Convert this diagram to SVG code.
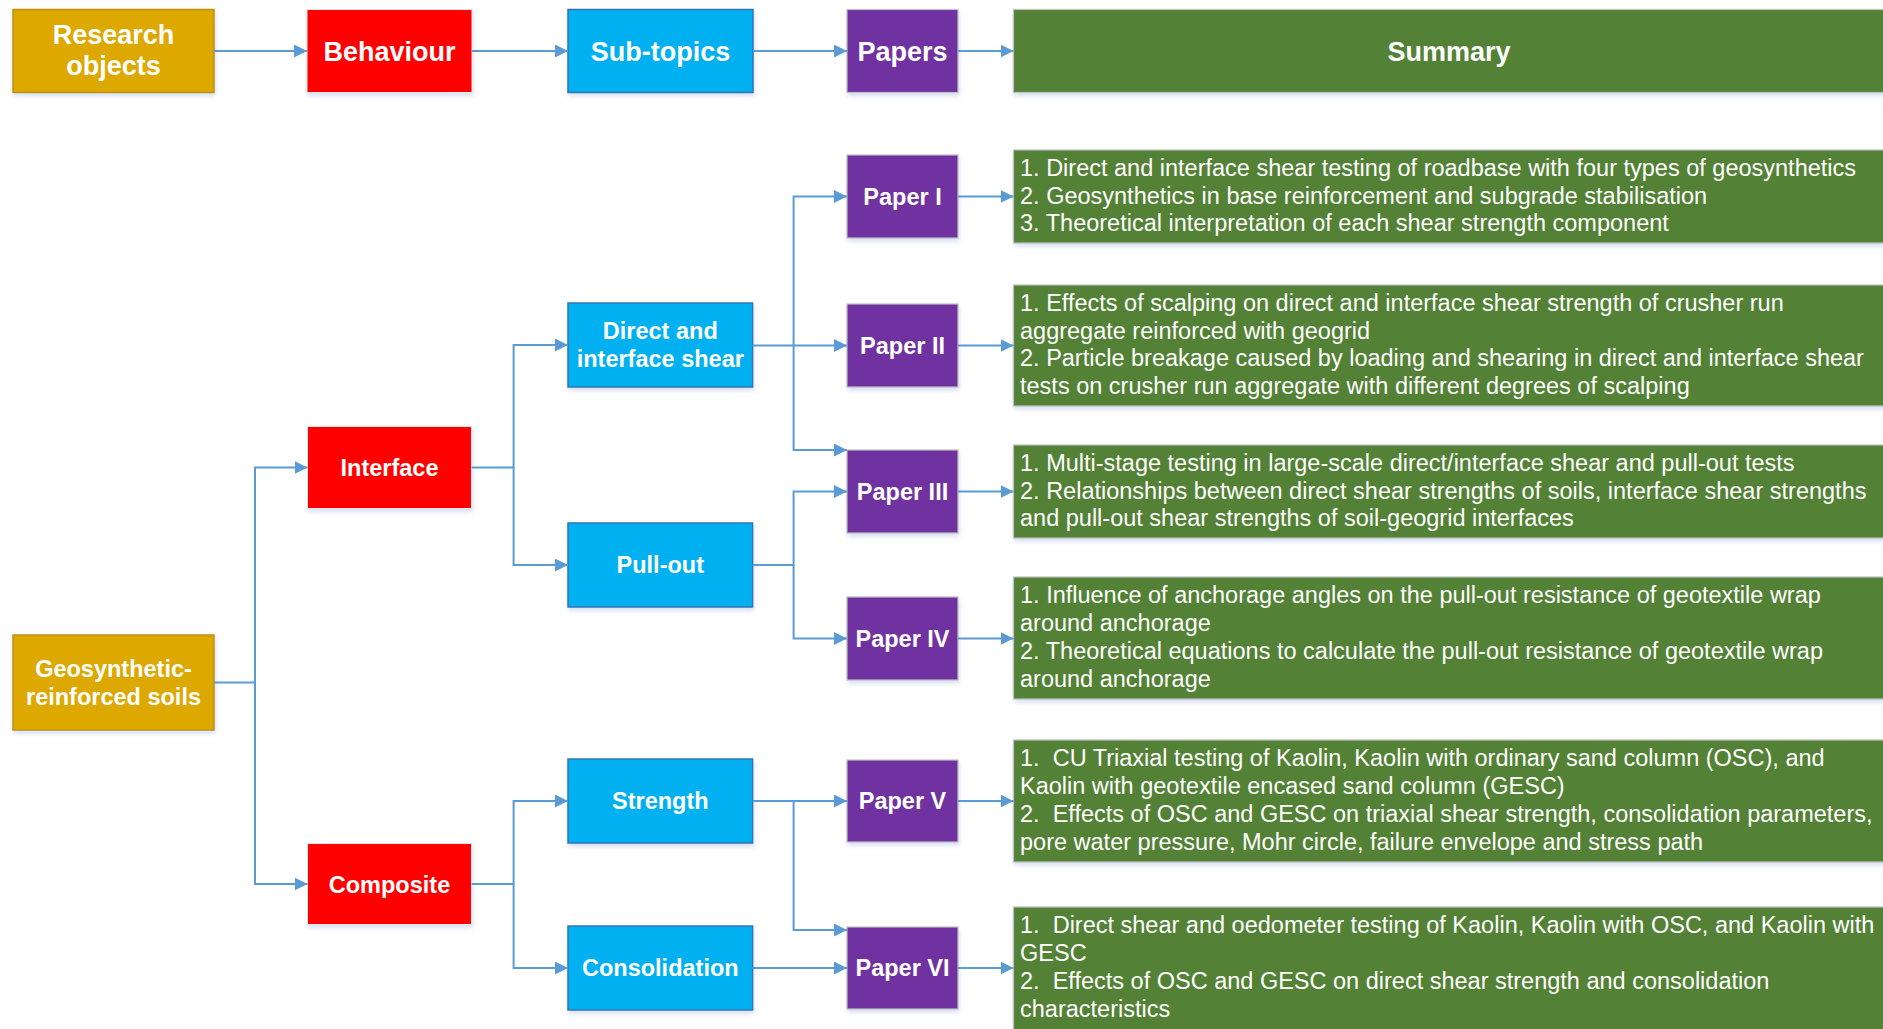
<svg xmlns="http://www.w3.org/2000/svg" width="1883" height="1029" viewBox="0 0 1883 1029">
<defs>
<filter id="sh" x="-5%" y="-10%" width="115%" height="135%">
<feDropShadow dx="1" dy="3" stdDeviation="2" flood-color="#8EA9DB" flood-opacity="0.35"/>
</filter>
<marker id="ar" markerUnits="userSpaceOnUse" markerWidth="14" markerHeight="14" refX="13" refY="6.5" orient="auto">
<path d="M0,0 L13,6.5 L0,13 Z" fill="#5B9BD5"/>
</marker>
<style>
.gold{fill:#DDA800;stroke:#BF9000;stroke-width:1.5;filter:url(#sh)}
.red{fill:#FF0000;stroke:#E8E8E8;stroke-width:1;filter:url(#sh)}
.cyan{fill:#00B0F0;stroke:#2E75B6;stroke-width:1.5;filter:url(#sh)}
.purple{fill:#7030A0;stroke:#BFBFBF;stroke-width:1.2;filter:url(#sh)}
.green{fill:#538135;stroke:#BFBFBF;stroke-width:1.2;filter:url(#sh)}
.h{font-family:"Liberation Sans",Arial,sans-serif;font-weight:bold;font-size:27px;fill:#fff;text-anchor:middle}
.n{font-family:"Liberation Sans",Arial,sans-serif;font-weight:bold;font-size:23.5px;fill:#fff;text-anchor:middle}
.s{font-family:"Liberation Sans",Arial,sans-serif;font-size:23.5px;fill:#fff;white-space:pre}
.c{fill:none;stroke:#5B9BD5;stroke-width:2;marker-end:url(#ar)}
.l{fill:none;stroke:#5B9BD5;stroke-width:2}
</style>
</defs>
<rect width="1883" height="1029" fill="#fff"/>

<!-- header row -->
<g id="h-research"><rect class="gold" x="13" y="9.5" width="201" height="83"/><text class="h" x="113.5" y="43.5">Research</text><text class="h" x="113.5" y="74.5">objects</text></g>
<g id="h-behaviour"><rect class="red" x="307" y="9.5" width="165" height="83"/><text class="h" x="389.5" y="60.5">Behaviour</text></g>
<g id="h-subtopics"><rect class="cyan" x="568" y="9.5" width="185" height="83"/><text class="h" x="660.5" y="60.5">Sub-topics</text></g>
<g id="h-papers"><rect class="purple" x="847" y="9.5" width="111" height="83"/><text class="h" x="902.5" y="60.5">Papers</text></g>
<g id="h-summary"><rect class="green" x="1013.5" y="9.5" width="880" height="83"/><text class="h" x="1449" y="60.5">Summary</text></g>

<!-- research object -->
<g id="geo"><rect class="gold" x="13" y="635" width="201" height="95"/><text class="n" x="113.5" y="677">Geosynthetic-</text><text class="n" x="113.5" y="705">reinforced soils</text></g>

<!-- behaviours -->
<g id="interface"><rect class="red" x="307.5" y="426.5" width="164" height="82"/><text class="n" x="389.5" y="476">Interface</text></g>
<g id="composite"><rect class="red" x="307.5" y="843.5" width="164" height="81"/><text class="n" x="389.5" y="892.5">Composite</text></g>

<!-- sub-topics -->
<g id="direct"><rect class="cyan" x="568" y="303" width="184.6" height="84"/><text class="n" x="660.3" y="339.4">Direct and</text><text class="n" x="660.3" y="367.4">interface shear</text></g>
<g id="pullout"><rect class="cyan" x="568" y="523" width="184.6" height="84"/><text class="n" x="660.3" y="573.4">Pull-out</text></g>
<g id="strength"><rect class="cyan" x="568" y="759" width="184.6" height="84"/><text class="n" x="660.3" y="809.4">Strength</text></g>
<g id="consolidation"><rect class="cyan" x="568" y="926" width="184.6" height="84"/><text class="n" x="660.3" y="976.4">Consolidation</text></g>

<!-- papers -->
<g id="paper1"><rect class="purple" x="847" y="155" width="111" height="83"/><text class="n" x="902.5" y="204.9">Paper I</text></g>
<g id="paper2"><rect class="purple" x="847" y="304" width="111" height="83"/><text class="n" x="902.5" y="353.9">Paper II</text></g>
<g id="paper3"><rect class="purple" x="847" y="450" width="111" height="83"/><text class="n" x="902.5" y="499.9">Paper III</text></g>
<g id="paper4"><rect class="purple" x="847" y="597" width="111" height="83"/><text class="n" x="902.5" y="646.9">Paper IV</text></g>
<g id="paper5"><rect class="purple" x="847" y="760" width="111" height="82"/><text class="n" x="902.5" y="809.4">Paper V</text></g>
<g id="paper6"><rect class="purple" x="847" y="927" width="111" height="82"/><text class="n" x="902.5" y="976.4">Paper VI</text></g>

<!-- summaries -->
<g id="sum1"><rect class="green" x="1013.5" y="150" width="880" height="93"/>
<text class="s" x="1020" y="175.7">1. Direct and interface shear testing of roadbase with four types of geosynthetics</text>
<text class="s" x="1020" y="203.5">2. Geosynthetics in base reinforcement and subgrade stabilisation</text>
<text class="s" x="1020" y="231.3">3. Theoretical interpretation of each shear strength component</text></g>
<g id="sum2"><rect class="green" x="1013.5" y="285" width="880" height="121"/>
<text class="s" x="1020" y="310.8">1. Effects of scalping on direct and interface shear strength of crusher run</text>
<text class="s" x="1020" y="338.6">aggregate reinforced with geogrid</text>
<text class="s" x="1020" y="366.4">2. Particle breakage caused by loading and shearing in direct and interface shear</text>
<text class="s" x="1020" y="394.2">tests on crusher run aggregate with different degrees of scalping</text></g>
<g id="sum3"><rect class="green" x="1013.5" y="445" width="880" height="93"/>
<text class="s" x="1020" y="470.7">1. Multi-stage testing in large-scale direct/interface shear and pull-out tests</text>
<text class="s" x="1020" y="498.5">2. Relationships between direct shear strengths of soils, interface shear strengths</text>
<text class="s" x="1020" y="526.3">and pull-out shear strengths of soil-geogrid interfaces</text></g>
<g id="sum4"><rect class="green" x="1013.5" y="577" width="880" height="122"/>
<text class="s" x="1020" y="603.3">1. Influence of anchorage angles on the pull-out resistance of geotextile wrap</text>
<text class="s" x="1020" y="631.1">around anchorage</text>
<text class="s" x="1020" y="658.9">2. Theoretical equations to calculate the pull-out resistance of geotextile wrap</text>
<text class="s" x="1020" y="686.7">around anchorage</text></g>
<g id="sum5"><rect class="green" x="1013.5" y="740" width="880" height="122"/>
<text class="s" x="1020" y="766.3" xml:space="preserve">1.  CU Triaxial testing of Kaolin, Kaolin with ordinary sand column (OSC), and</text>
<text class="s" x="1020" y="794.1">Kaolin with geotextile encased sand column (GESC)</text>
<text class="s" x="1020" y="821.9" xml:space="preserve">2.  Effects of OSC and GESC on triaxial shear strength, consolidation parameters,</text>
<text class="s" x="1020" y="849.7">pore water pressure, Mohr circle, failure envelope and stress path</text></g>
<g id="sum6"><rect class="green" x="1013.5" y="907" width="880" height="124"/>
<text class="s" x="1020" y="933.3" xml:space="preserve">1.  Direct shear and oedometer testing of Kaolin, Kaolin with OSC, and Kaolin with</text>
<text class="s" x="1020" y="961.1">GESC</text>
<text class="s" x="1020" y="988.9" xml:space="preserve">2.  Effects of OSC and GESC on direct shear strength and consolidation</text>
<text class="s" x="1020" y="1016.7">characteristics</text></g>

<!-- connectors -->
<g id="connectors">
<path class="c" d="M214,51 H307"/>
<path class="c" d="M472,51 H568"/>
<path class="c" d="M753,51 H847"/>
<path class="c" d="M958,51 H1013.5"/>

<path class="c" d="M214,682.5 H255 V467.5 H307.5"/>
<path class="c" d="M255,682.5 V884 H307.5"/>

<path class="c" d="M471.5,467.5 H513.6 V345 H568"/>
<path class="c" d="M513.6,467.5 V565 H568"/>

<path class="c" d="M471.5,884 H513.6 V801 H568"/>
<path class="c" d="M513.6,884 V968 H568"/>

<path class="c" d="M752.6,345.5 H847"/>
<path class="c" d="M793.6,345.5 V196.5 H847"/>
<path class="c" d="M793.6,345.5 V450 H847"/>

<path class="c" d="M752.6,565 H793.6 V491.5 H847"/>
<path class="c" d="M793.6,565 V638.5 H847"/>

<path class="c" d="M752.6,801 H847"/>
<path class="c" d="M793.6,801 V930 H847"/>

<path class="c" d="M752.6,968 H847"/>

<path class="c" d="M958,196.5 H1013.5"/>
<path class="c" d="M958,345.5 H1013.5"/>
<path class="c" d="M958,491.5 H1013.5"/>
<path class="c" d="M958,638.5 H1013.5"/>
<path class="c" d="M958,801 H1013.5"/>
<path class="c" d="M958,968 H1013.5"/>
</g>
</svg>
